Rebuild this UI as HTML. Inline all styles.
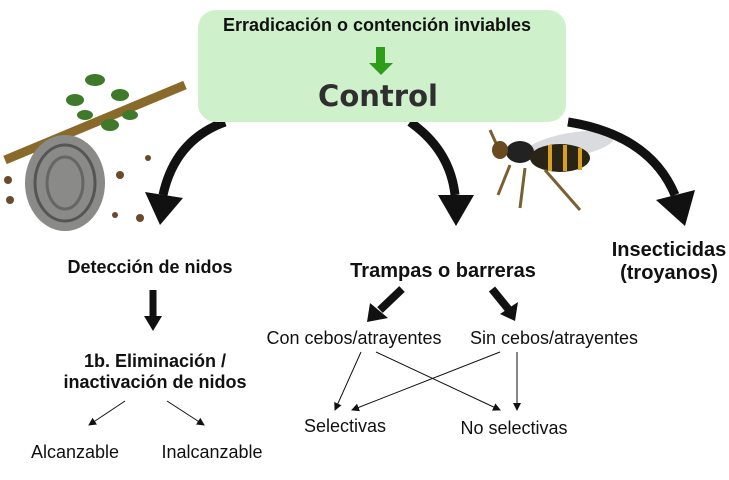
<!DOCTYPE html>
<html><head><meta charset="utf-8"><style>
body{margin:0;width:729px;height:480px;background:#fff;overflow:hidden;position:relative;font-family:"Liberation Sans",sans-serif;color:#111}
.t{position:absolute;white-space:nowrap;transform:translateX(-50%)}
.b{font-weight:bold}
</style></head><body>
<svg width="729" height="480" style="position:absolute;left:0;top:0">
<defs>
<marker id="a" markerWidth="8" markerHeight="8" refX="7" refY="4" orient="auto" markerUnits="userSpaceOnUse"><path d="M0,0L8,4L0,8z" fill="#111"/></marker>
</defs>
<path d="M5,160 L185,85" stroke="#8a6a2a" stroke-width="9"/>
<g fill="#3f7a2a"><ellipse cx="95" cy="80" rx="10" ry="6"/><ellipse cx="75" cy="100" rx="9" ry="6"/><ellipse cx="120" cy="95" rx="9" ry="6"/><ellipse cx="110" cy="125" rx="9" ry="6"/><ellipse cx="130" cy="115" rx="8" ry="5"/><ellipse cx="85" cy="115" rx="8" ry="5"/></g>
<ellipse cx="65" cy="183" rx="40" ry="48" fill="#8a8a88"/>
<ellipse cx="65" cy="183" rx="30" ry="38" fill="none" stroke="#555" stroke-width="3"/>
<ellipse cx="65" cy="183" rx="18" ry="26" fill="none" stroke="#666" stroke-width="3"/>
<g fill="#6a4a2a"><circle cx="8" cy="180" r="4"/><circle cx="10" cy="200" r="4"/><circle cx="120" cy="175" r="4"/><circle cx="148" cy="158" r="3"/><circle cx="140" cy="218" r="4"/><circle cx="115" cy="215" r="3"/></g>
<ellipse cx="570" cy="145" rx="45" ry="12" fill="#c9ccd0" opacity=".7" transform="rotate(-10 570 145)"/>
<ellipse cx="520" cy="152" rx="14" ry="11" fill="#222"/>
<ellipse cx="560" cy="158" rx="30" ry="14" fill="#2a2416"/>
<path d="M550,145v26M565,145v26M580,148v22" stroke="#d9a020" stroke-width="4"/>
<path d="M500,152L490,130M510,165L498,195M525,168L520,208M545,170L580,210" stroke="#7a6030" stroke-width="3" fill="none"/>
<ellipse cx="500" cy="150" rx="8" ry="9" fill="#6a4a20"/>
<g fill="none" stroke="#111" stroke-width="9">
<path d="M225,122 Q175,140 163,195"/>
<path d="M410,122 Q450,150 455,195"/>
<path d="M568,122 Q650,135 675,195"/>
</g>
<g fill="#111">
<path d="M145,192L183,198L160,225z"/>
<path d="M438,195L474,195L456,226z"/>
<path d="M656,200L695,190L685,226z"/>
</g>
<path d="M153,290V318" stroke="#111" stroke-width="7"/><path d="M144,316H162L153,331z" fill="#111"/>
<path d="M402,289L380,310" stroke="#111" stroke-width="8"/><path d="M370,303L388,318L367,322z" fill="#111"/>
<path d="M492,289L509,310" stroke="#111" stroke-width="8"/><path d="M500,314L518,302L515,321z" fill="#111"/>
<g stroke="#111" stroke-width="1" marker-end="url(#a)">
<line x1="125" y1="401" x2="89" y2="425"/>
<line x1="167" y1="401" x2="204" y2="425"/>
<line x1="361" y1="352" x2="335" y2="410"/>
<line x1="376" y1="352" x2="500" y2="410"/>
<line x1="500" y1="352" x2="352" y2="410"/>
<line x1="517" y1="352" x2="517" y2="410"/>
</g>
</svg>
<div style="position:absolute;left:198px;top:10px;width:368px;height:112px;background:#cef1cb;border-radius:18px"></div>
<div class="t b" style="left:377px;top:15px;font-size:18px">Erradicación o contención inviables</div>
<div style="position:absolute;left:376px;top:47px;width:9px;height:17px;background:#2e9e1a"></div>
<div style="position:absolute;left:369px;top:63px;width:0;height:0;border-left:12px solid transparent;border-right:12px solid transparent;border-top:12px solid #2e9e1a"></div>
<div class="t b" style="left:378px;top:79px;font-size:29px;color:#2f2f2f;font-family:'DejaVu Sans',sans-serif">Control</div>
<div class="t b" style="left:150px;top:257px;font-size:18px">Detección de nidos</div>
<div class="t b" style="left:155px;top:351px;font-size:18px;text-align:center;line-height:21px">1b. Eliminación /<br>inactivación de nidos</div>
<div class="t" style="left:75px;top:442px;font-size:18px">Alcanzable</div>
<div class="t" style="left:212px;top:442px;font-size:18px">Inalcanzable</div>
<div class="t b" style="left:443px;top:260px;font-size:20px">Trampas o barreras</div>
<div class="t" style="left:354px;top:328px;font-size:18px">Con cebos/atrayentes</div>
<div class="t" style="left:554px;top:328px;font-size:18px">Sin cebos/atrayentes</div>
<div class="t" style="left:345px;top:416px;font-size:18px">Selectivas</div>
<div class="t" style="left:514px;top:418px;font-size:18px">No selectivas</div>
<div class="t b" style="left:669px;top:239px;font-size:20px;text-align:center;line-height:23px">Insecticidas<br>(troyanos)</div>
</body></html>
